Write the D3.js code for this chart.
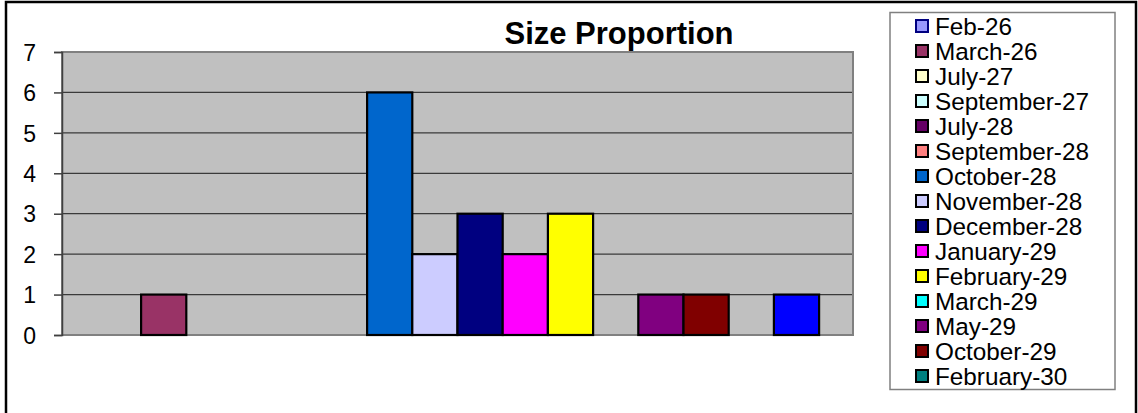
<!DOCTYPE html>
<html>
<head>
<meta charset="utf-8">
<script src="https://cdn.jsdelivr.net/npm/d3@7"></script>
<style>
  html, body { margin: 0; padding: 0; background: #fff; }
  svg { display: block; font-family: Arial, "Liberation Sans", sans-serif; }
</style>
</head>
<body>
<svg id="chart" width="1138" height="413"></svg>
<script>
// Series names (one bar per series, single category group)
const seriesNames = [
  "Feb-26", "March-26", "July-27", "September-27", "July-28",
  "September-28", "October-28", "November-28", "December-28", "January-29",
  "February-29", "March-29", "May-29", "October-29", "February-30", "Series16"
];
// Count per series
const seriesValues = [0, 1, 0, 0, 0, 0, 6, 2, 3, 2, 3, 0, 1, 1, 0, 1];
// Fill colour per series
const seriesColors = [
  "#9999FF", "#993366", "#FFFFCC", "#CCFFFF", "#660066",
  "#FF8080", "#0066CC", "#CCCCFF", "#000080", "#FF00FF",
  "#FFFF00", "#00FFFF", "#800080", "#800000", "#008080", "#0000FF"
];
// Border colour per series
const seriesBorders = [
  "#000080", "#000000", "#000000", "#000000", "#000000",
  "#000000", "#000000", "#000000", "#000000", "#000000",
  "#000000", "#000000", "#000000", "#000000", "#000000", "#000000"
];
const yTicks = [0, 1, 2, 3, 4, 5, 6, 7];
const titleText = "Size Proportion";
const legendRows = 15; // rows that fit in the legend box

const svg = d3.select("#chart");

// chart frame
svg.append("rect")
  .attr("x", 6).attr("y", 2)
  .attr("width", 1130).attr("height", 430)
  .attr("fill", "#fff").attr("stroke", "#000").attr("stroke-width", 2.5);

// plot area
const plot = { left: 62, right: 853, top: 52, bottom: 335 };

const y = d3.scaleLinear().domain([0, 7]).range([plot.bottom, plot.top]);

// gap of 150% of a bar width split across both sides
const slot = (plot.right - plot.left) / (seriesNames.length + 1.5);
const gap = slot * 0.75;
const x = d3.scaleBand()
  .domain(seriesNames)
  .range([plot.left + gap, plot.right - gap])
  .padding(0);

svg.append("rect")
  .attr("x", plot.left).attr("y", plot.top)
  .attr("width", plot.right - plot.left).attr("height", plot.bottom - plot.top)
  .attr("fill", "#C0C0C0");

// gridlines
svg.append("g")
  .selectAll("line")
  .data(yTicks.filter(d => d > 0 && d < 7))
  .join("line")
  .attr("x1", plot.left).attr("x2", plot.right)
  .attr("y1", d => y(d)).attr("y2", d => y(d))
  .attr("stroke", "#3a3a3a").attr("stroke-width", 1.2);

// plot area border
svg.append("rect")
  .attr("x", plot.left).attr("y", plot.top)
  .attr("width", plot.right - plot.left).attr("height", plot.bottom - plot.top)
  .attr("fill", "none").attr("stroke", "#808080").attr("stroke-width", 2);

// bars
svg.append("g")
  .selectAll("rect")
  .data(seriesNames.map((n, i) => ({ name: n, value: seriesValues[i], color: seriesColors[i], border: seriesBorders[i] })))
  .join("rect")
  .filter(d => d.value > 0)
  .attr("x", d => x(d.name))
  .attr("y", d => y(d.value))
  .attr("width", x.bandwidth())
  .attr("height", d => y(0) - y(d.value))
  .attr("fill", d => d.color)
  .attr("stroke", d => d.border)
  .attr("stroke-width", 2.2);

// y axis
const yAxis = d3.axisLeft(y).tickValues(yTicks).tickSize(8).tickPadding(18).tickFormat(d3.format("d"));
const gy = svg.append("g").attr("transform", `translate(${plot.left},0)`).call(yAxis);
gy.select(".domain").attr("stroke", "#404040").attr("stroke-width", 1.5);
gy.selectAll(".tick line").attr("stroke", "#404040").attr("stroke-width", 1.5);
gy.selectAll(".tick text")
  .attr("font-family", "Arial, 'Liberation Sans', sans-serif")
  .attr("font-size", 23).attr("fill", "#000")
  .attr("dy", "0.36em");

// title
svg.append("text")
  .attr("x", 619).attr("y", 44)
  .attr("text-anchor", "middle")
  .attr("font-size", 31).attr("font-weight", "bold")
  .attr("fill", "#000")
  .text(titleText);

// legend
const legend = svg.append("g");
legend.append("rect")
  .attr("x", 890).attr("y", 12.5)
  .attr("width", 225).attr("height", 377)
  .attr("fill", "#fff").attr("stroke", "#808080").attr("stroke-width", 1.5);

const rowH = 25;
const items = legend.selectAll("g.item")
  .data(seriesNames.slice(0, legendRows).map((n, i) => ({ name: n, color: seriesColors[i], border: seriesBorders[i], i })))
  .join("g").attr("class", "item")
  .attr("transform", d => `translate(0,${26.5 + d.i * rowH})`);

items.append("rect")
  .attr("x", 916).attr("y", -6.5)
  .attr("width", 12).attr("height", 12)
  .attr("fill", d => d.color)
  .attr("stroke", d => d.border).attr("stroke-width", 2);

items.append("text")
  .attr("x", 935).attr("y", 0)
  .attr("dy", "0.35em")
  .attr("font-size", 24.3).attr("fill", "#000")
  .text(d => d.name);
</script>
</body>
</html>
